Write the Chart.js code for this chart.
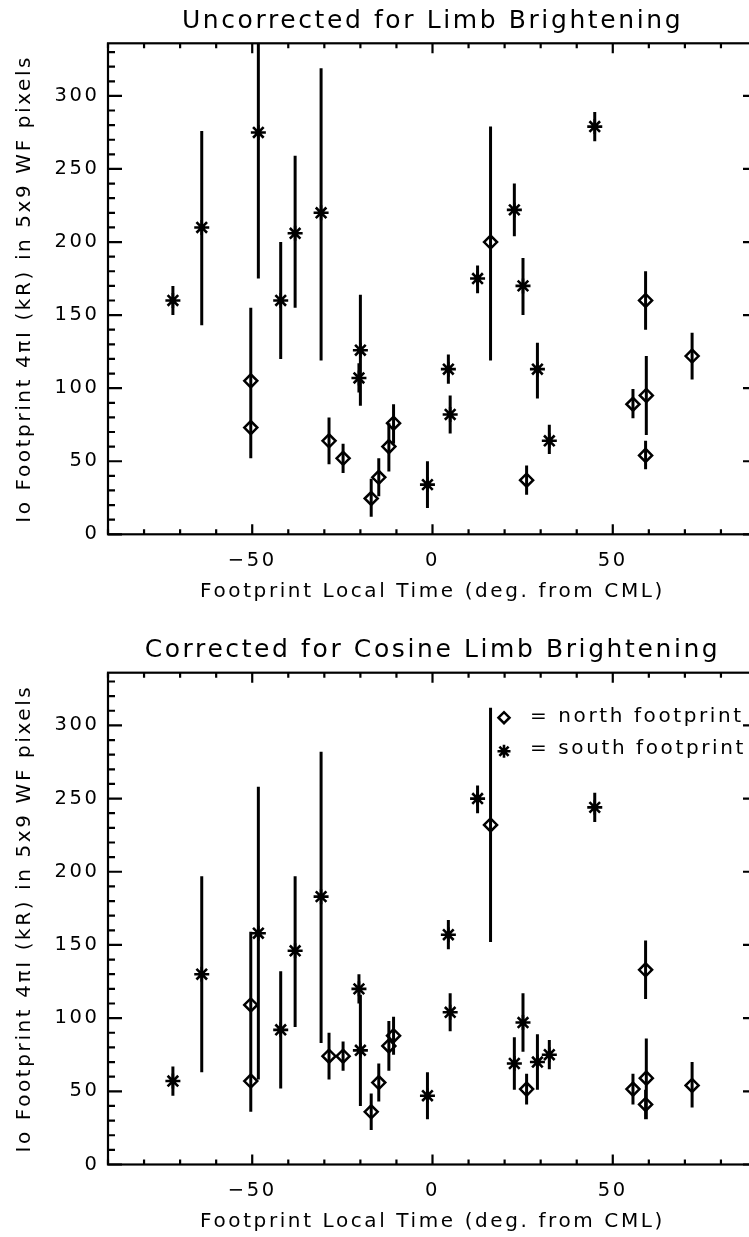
<!DOCTYPE html>
<html>

<head>
  <meta charset="utf-8">
  <title>Io footprint brightness vs. local time</title>
  <style>
    body {
      margin: 0;
      background: #fff;
      overflow: hidden;
    }

    .panel {
      position: absolute;
      left: 0;
    }

    #topPanel {
      top: 0;
    }

    #bottomPanel {
      top: 620px;
    }
  </style>
</head>

<body>
  <div class="panel" id="topPanel"><canvas id="chartTop" width="770" height="620"></canvas></div>
  <div class="panel" id="bottomPanel"><canvas id="chartBottom" width="770" height="617"></canvas></div>

  <script src="https://cdn.jsdelivr.net/npm/chart.js"></script>
  <script>
    // axis ticks
    const xTickValues = [-50, 0, 50];
    const yTickValues = [0, 50, 100, 150, 200, 250, 300];

    // footprint local time (deg. from CML), same in both panels
    const northX = [-50.4, -50.4, -28.7, -24.8, -17, -14.9, -12.1, -10.8, 16.1, 26.1, 55.6, 59.1, 59.3, 59.1, 72];
    const southX = [-72, -64, -48.3, -42.1, -38.1, -30.9, -20, -20.4, -1.4, 4.4, 4.9, 12.5, 22.7, 25.1, 29.1, 32.4, 45];

    // uncorrected brightness (kR) with error bar ends
    const rawNorthY = [105, 73, 64, 52, 24.5, 39, 60, 76, 200, 37, 89, 160, 95, 54, 122];
    const rawNorthLo = [55, 52, 48, 42, 12, 26, 43, 62, 119, 27, 79.5, 140, 68, 44.5, 106];
    const rawNorthHi = [155, 94, 80, 62, 38, 52, 76, 89, 279, 47, 99.5, 180, 122, 64, 138];
    const rawSouthY = [160, 210, 275, 160, 206, 220, 126, 107, 34, 113, 82, 175, 222, 170, 113, 64, 279];
    const rawSouthLo = [150, 143, 175, 120, 155, 119, 88, 97, 18, 103, 69, 165, 204, 150, 93, 55, 269];
    const rawSouthHi = [170, 276, 375, 200, 259, 319, 164, 117, 50, 123, 95, 184, 240, 189, 131, 75, 289];

    // corrected for cosine limb brightening
    const corNorthY = [109, 57, 74, 74, 36, 56, 81, 88, 232, 51.5, 51.5, 133, 59, 41, 54];
    const corNorthLo = [59, 36, 58, 64, 23.5, 43, 64, 75, 152, 41, 41, 113, 31, 31, 39];
    const corNorthHi = [159, 78, 90, 84, 48.5, 69, 98, 101, 312, 62, 62, 153, 86, 51, 70];
    const corSouthY = [57, 130, 158, 92, 146, 183, 78, 120, 47, 157, 104, 250, 69, 97, 70, 75, 244];
    const corSouthLo = [47, 63, 58, 52, 94, 83, 40, 110, 31, 147, 91, 240, 51, 77, 51, 65, 234];
    const corSouthHi = [67, 197, 258, 132, 197, 282, 116, 130, 63, 167, 117, 259, 87, 117, 89, 85, 254];

    const keyLabels = ['= north footprint', '= south footprint'];

    const FONT = 'DejaVu Sans';
    const SPACING = '2.6px';   // the old vector font is wide, so stretch the letters a bit

    // error bars: one line dataset, segments split by null
    function errorSegments(xs, lo, hi) {
      const pts = [];
      xs.forEach((x, i) => {
        pts.push({ x: x, y: lo[i] }, { x: x, y: hi[i] }, { x: x, y: null });
      });
      return pts;
    }

    function points(xs, ys) {
      return xs.map((x, i) => ({ x: x, y: ys[i] }));
    }

    // frame with inward ticks on all four sides
    const framePlugin = {
      id: 'frame',
      beforeLayout(chart) { chart.ctx.letterSpacing = SPACING; },
      beforeDraw(chart) { chart.ctx.letterSpacing = SPACING; },
      afterDatasetsDraw(chart) {
        const { ctx, chartArea: a, scales: { x, y } } = chart;
        ctx.save();
        ctx.strokeStyle = '#000';
        ctx.lineWidth = 2.2;
        ctx.strokeRect(a.left, a.top, a.right - a.left, a.bottom - a.top);
        ctx.beginPath();
        for (let v = -90; v <= 90; v += 10) {
          const px = x.getPixelForValue(v);
          const len = xTickValues.includes(v) ? 10 : 5;
          ctx.moveTo(px, a.bottom); ctx.lineTo(px, a.bottom - len);
          ctx.moveTo(px, a.top); ctx.lineTo(px, a.top + len);
        }
        for (let v = 0; v <= 330; v += 10) {
          const py = y.getPixelForValue(v);
          const len = yTickValues.includes(v) ? 14 : 7;
          ctx.moveTo(a.left, py); ctx.lineTo(a.left + len, py);
          ctx.moveTo(a.right, py); ctx.lineTo(a.right - len, py);
        }
        ctx.stroke();
        ctx.restore();
      }
    };

    // symbol key inside the lower panel
    const keyPlugin = {
      id: 'symbolKey',
      afterDraw(chart) {
        if (!chart.options.plugins.symbolKey.show) return;
        const { ctx, chartArea: a } = chart;
        const rows = [
          { ds: chart.data.datasets[2], cy: 45, base: 49 },
          { ds: chart.data.datasets[3], cy: 78.5, base: 81.5 }
        ];
        ctx.save();
        ctx.letterSpacing = SPACING;
        ctx.font = '20px "' + FONT + '"';
        ctx.textBaseline = 'alphabetic';
        rows.forEach((r, i) => {
          ctx.strokeStyle = '#000';
          ctx.lineWidth = r.ds.borderWidth;
          ctx.fillStyle = 'rgba(0,0,0,0)';
          Chart.helpers.drawPoint(ctx, {
            pointStyle: r.ds.pointStyle,
            radius: r.ds.pointRadius - 1,
            borderWidth: r.ds.borderWidth,
            rotation: 0
          }, a.left + 396, a.top + r.cy);
          ctx.fillStyle = '#000';
          ctx.fillText(keyLabels[i], a.left + 422, a.top + r.base);
        });
        ctx.restore();
      }
    };

    function makeChart(id, cfg) {
      const data = {
        datasets: [{
          label: 'north error',
          data: errorSegments(northX, cfg.northLo, cfg.northHi),
          showLine: true,
          spanGaps: false,
          borderColor: '#000',
          borderWidth: 3,
          pointRadius: 0
        }, {
          label: 'south error',
          data: errorSegments(southX, cfg.southLo, cfg.southHi),
          showLine: true,
          spanGaps: false,
          borderColor: '#000',
          borderWidth: 3,
          pointRadius: 0
        }, {
          label: 'north footprint',
          data: points(northX, cfg.northY),
          pointStyle: 'rectRot',
          pointRadius: 6.5,
          borderWidth: 2.5,
          borderColor: '#000',
          backgroundColor: 'rgba(0,0,0,0)'
        }, {
          label: 'south footprint',
          data: points(southX, cfg.southY),
          pointStyle: 'star',
          pointRadius: 7.5,
          borderWidth: 2.6,
          borderColor: '#000',
          backgroundColor: '#000'
        }]
      };

      const config = {
        type: 'scatter',
        data: data,
        options: {
          responsive: false,
          animation: false,
          events: [],
          layout: { padding: { left: 0, right: 13, top: 0, bottom: 0 } },
          scales: {
            x: {
              type: 'linear',
              min: -90,
              max: 90,
              grid: { display: false, drawTicks: false },
              border: { display: false },
              ticks: {
                color: '#000',
                padding: 15,
                maxRotation: 0,
                autoSkip: false,
                font: { family: FONT, size: 19.5 },
                callback: (v) => String(v).replace('-', '\u2212')
              },
              afterBuildTicks: (s) => { s.ticks = xTickValues.map(v => ({ value: v })); },
              afterFit: (s) => { s.height = cfg.xAxisHeight; },
              title: {
                display: true,
                text: 'Footprint Local Time (deg. from CML)',
                color: '#000',
                font: { family: FONT, size: 20 },
                padding: { top: 0, bottom: cfg.xTitlePad }
              }
            },
            y: {
              type: 'linear',
              min: 0,
              max: 336,
              grid: { display: false, drawTicks: false },
              border: { display: false },
              ticks: {
                color: '#000',
                padding: 8.5,
                autoSkip: false,
                font: { family: FONT, size: 19.5 }
              },
              afterBuildTicks: (s) => { s.ticks = yTickValues.map(v => ({ value: v })); },
              afterFit: (s) => { s.width = 108; },
              title: {
                display: true,
                text: 'Io Footprint 4\u03C0I (kR) in 5x9 WF pixels',
                color: '#000',
                font: { family: FONT, size: 20 },
                padding: { top: 13, bottom: 0 }
              }
            }
          },
          plugins: {
            legend: { display: false },
            tooltip: { enabled: false },
            symbolKey: { show: cfg.showKey },
            title: {
              display: true,
              fullSize: false,
              text: cfg.title,
              color: '#000',
              font: { family: FONT, size: 25, weight: 'normal' },
              padding: { top: cfg.titleTop, bottom: cfg.titleBottom }
            }
          }
        },
        plugins: [framePlugin, keyPlugin]
      };

      return new Chart(document.getElementById(id).getContext('2d'), config);
    }

    const topChart = makeChart('chartTop', {
      title: 'Uncorrected for Limb Brightening',
      northY: rawNorthY, northLo: rawNorthLo, northHi: rawNorthHi,
      southY: rawSouthY, southLo: rawSouthLo, southHi: rawSouthHi,
      titleTop: 6, titleBottom: 7.3,
      xAxisHeight: 85.7, xTitlePad: 16.3,
      showKey: false
    });

    const bottomChart = makeChart('chartBottom', {
      title: 'Corrected for Cosine Limb Brightening',
      northY: corNorthY, northLo: corNorthLo, northHi: corNorthHi,
      southY: corSouthY, southLo: corSouthLo, southHi: corSouthHi,
      titleTop: 15, titleBottom: 7.7,
      xAxisHeight: 72.5, xTitlePad: 3.3,
      showKey: true
    });
  </script>
</body>

</html>
